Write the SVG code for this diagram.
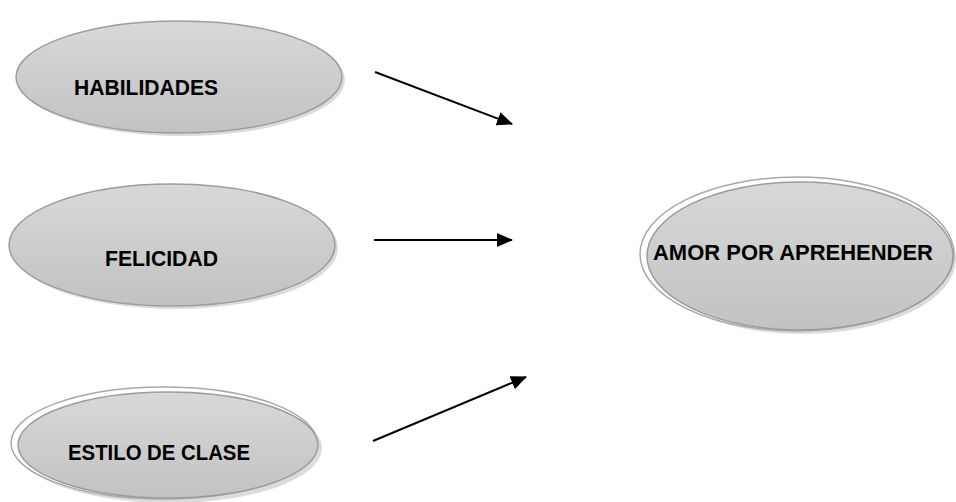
<svg xmlns="http://www.w3.org/2000/svg" width="956" height="502" viewBox="0 0 956 502">
<defs>
<linearGradient id="g" x1="0" y1="0" x2="0" y2="1">
<stop offset="0" stop-color="#d8d8d8"/>
<stop offset="1" stop-color="#c2c2c2"/>
</linearGradient>
<marker id="ah" markerWidth="8" markerHeight="7" refX="7.5" refY="3.5" orient="auto" markerUnits="strokeWidth">
<path d="M0,0 L8,3.5 L0,7 Z" fill="#000"/>
</marker>
<style>
.sh{fill:#b8b8b8;opacity:0.5}
.el{fill:url(#g);stroke:#9c9c9c;stroke-width:1.5}
.out{fill:#ffffff;stroke:#a8a8a8;stroke-width:1.5}
.t{font-family:"Liberation Sans",Arial,sans-serif;font-weight:bold;font-size:22.5px;fill:#000}
.c{stroke:#000;stroke-width:2;fill:none;marker-end:url(#ah)}
</style>
</defs>
<rect width="956" height="502" fill="#fff"/>
<g id="habilidades">
<ellipse class="sh" cx="182" cy="80" rx="163" ry="56"/>
<ellipse class="el" cx="179" cy="77" rx="163" ry="56"/>
<text class="t" x="74" y="95" textLength="144" lengthAdjust="spacingAndGlyphs">HABILIDADES</text>
</g>
<g id="felicidad">
<ellipse class="sh" cx="175" cy="248" rx="163" ry="61"/>
<ellipse class="el" cx="172" cy="245" rx="163" ry="61"/>
<text class="t" x="105" y="266" textLength="113" lengthAdjust="spacingAndGlyphs">FELICIDAD</text>
</g>
<g id="estilo">
<ellipse class="sh" cx="170" cy="448" rx="152" ry="55"/>
<ellipse class="out" cx="164" cy="443" rx="153" ry="56"/>
<ellipse class="el" cx="168" cy="445" rx="150" ry="53"/>
<text class="t" x="68" y="460" textLength="182" lengthAdjust="spacingAndGlyphs">ESTILO DE CLASE</text>
</g>
<g id="amor">
<ellipse class="sh" cx="802" cy="259" rx="154" ry="75"/>
<ellipse class="out" cx="797" cy="254" rx="157" ry="77"/>
<ellipse class="el" cx="800" cy="256" rx="153" ry="74"/>
<text class="t" x="653" y="260" textLength="280" lengthAdjust="spacingAndGlyphs">AMOR POR APREHENDER</text>
</g>
<g id="connectors">
<line class="c" x1="375" y1="72" x2="512" y2="124"/>
<line class="c" x1="374" y1="240" x2="512" y2="240"/>
<line class="c" x1="373" y1="441" x2="526" y2="377"/>
</g>
</svg>
